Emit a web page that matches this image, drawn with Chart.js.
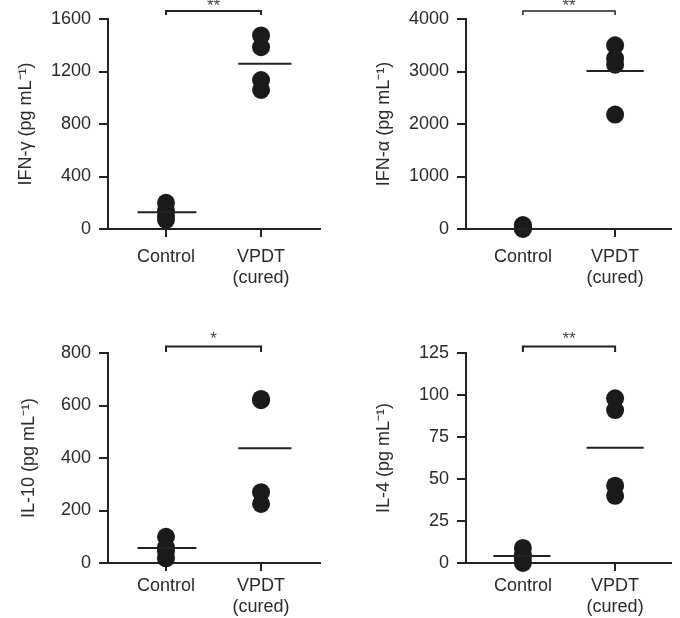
<!DOCTYPE html>
<html><head><meta charset="utf-8">
<script src="https://cdn.jsdelivr.net/npm/chart.js@4.4.0/dist/chart.umd.min.js"></script>
<style>
body{margin:0;background:#fff;width:680px;height:618px;position:relative;overflow:hidden}
canvas{position:absolute}
</style></head><body>
<canvas id="c0" width="340" height="310" style="left:0;top:0"></canvas>
<canvas id="c1" width="340" height="310" style="left:340px;top:0"></canvas>
<canvas id="c2" width="340" height="308" style="left:0;top:310px"></canvas>
<canvas id="c3" width="340" height="308" style="left:340px;top:310px"></canvas>
<script>
// ---- data ----
const groups = ['Control', ['VPDT', '(cured)']];

const ifnGammaControl = [200, 140, 100, 70];
const ifnGammaVPDT = [1475, 1385, 1135, 1060];
const ifnGammaMeans = [128, 1260];
const ifnGammaTicks = {max: 1600, step: 400};

const ifnAlphaControl = [75, 40, 15, 0];
const ifnAlphaVPDT = [3500, 3250, 3130, 2180];
const ifnAlphaMeans = [0, 3010];
const ifnAlphaTicks = {max: 4000, step: 1000};

const il10Control = [100, 60, 45, 18];
const il10VPDT = [625, 620, 270, 225];
const il10Means = [57, 437];
const il10Ticks = {max: 800, step: 200};

const il4Control = [9, 5, 3, 0];
const il4VPDT = [98, 91, 46, 40];
const il4Means = [4.2, 68.6];
const il4Ticks = {max: 125, step: 25};

const significance = ['**', '**', '*', '**'];
const yTitles = ['IFN-\u03b3 (pg mL\u207b\u00b9)', 'IFN-\u03b1 (pg mL\u207b\u00b9)', 'IL-10 (pg mL\u207b\u00b9)', 'IL-4 (pg mL\u207b\u00b9)'];

// ---- styling ----
const FONT = '"Liberation Sans", Arial, sans-serif';
const AX = '#222';
const TXT = '#2a2a2a';
const DOT = '#1a1a1a';

const bracketPlugin = {
  id: 'bracket',
  afterDraw(chart, args, o) {
    const {ctx, chartArea, scales: {x}} = chart;
    const x0 = x.getPixelForValue(0), x1 = x.getPixelForValue(1);
    const y = chartArea.top - o.offset;
    ctx.save();
    ctx.strokeStyle = AX; ctx.lineWidth = o.width;
    ctx.beginPath();
    ctx.moveTo(x0, y + o.leg); ctx.lineTo(x0, y); ctx.lineTo(x1, y); ctx.lineTo(x1, y + o.leg);
    ctx.stroke();
    ctx.fillStyle = '#444';
    ctx.font = '17px ' + FONT;
    ctx.textAlign = 'center'; ctx.textBaseline = 'alphabetic';
    ctx.fillText(o.text, (x0 + x1) / 2, y - o.textGap);
    ctx.restore();
  }
};

function makeChart(id, cfg) {
  const pts = (vals, c) => vals.map(v => ({x: c, y: v}));
  const meanLine = (m, c, span) => [{x: c + span[0], y: m}, {x: c + span[1], y: m}];
  new Chart(document.getElementById(id), {
    type: 'scatter',
    data: {
      datasets: [
        {type: 'line', data: meanLine(cfg.means[0], 0, cfg.spanC), borderColor: AX, borderWidth: 2, pointRadius: 0, clip: false},
        {type: 'line', data: meanLine(cfg.means[1], 1, cfg.spanV), borderColor: AX, borderWidth: 2, pointRadius: 0, clip: false},
        {data: pts(cfg.control, 0), backgroundColor: DOT, borderColor: DOT, pointRadius: 9, borderWidth: 0, clip: false},
        {data: pts(cfg.vpdt, 1), backgroundColor: DOT, borderColor: DOT, pointRadius: 9, borderWidth: 0, clip: false}
      ]
    },
    options: {
      responsive: false, animation: false, devicePixelRatio: 1,
      layout: {padding: {left: 0, right: cfg.padRight, top: cfg.padTop, bottom: 0}},
      plugins: {legend: {display: false}, tooltip: {enabled: false},
        bracket: {offset: cfg.brOffset, leg: cfg.brLeg, width: cfg.brWidth, text: cfg.sig, textGap: cfg.starGap}},
      scales: {
        x: {
          type: 'linear', min: cfg.xmin, max: cfg.xmax,
          afterBuildTicks: s => { s.ticks = [{value: 0}, {value: 1}]; },
          afterFit: s => { s.height = cfg.xHeight; },
          grid: {drawOnChartArea: false, drawTicks: true, tickLength: 8, color: AX, lineWidth: 2},
          border: {color: AX, width: 2},
          ticks: {callback: v => groups[v], color: TXT, font: {size: 18, family: FONT, lineHeight: 1.2},
            padding: cfg.xPad, maxRotation: 0, autoSkip: false}
        },
        y: {
          min: 0, max: cfg.ticks.max,
          afterFit: s => { s.width = cfg.yWidth; },
          grid: {drawOnChartArea: false, tickLength: 9, color: AX, lineWidth: 2},
          border: {color: AX, width: 2},
          ticks: {stepSize: cfg.ticks.step, color: TXT, font: {size: 18, family: FONT}, padding: 8,
            callback: v => String(v)},
          title: {display: true, text: cfg.title, color: TXT, font: {size: 18, family: FONT},
            padding: {top: cfg.titlePad, bottom: 0}}
        }
      }
    },
    plugins: [bracketPlugin]
  });
}

makeChart('c0', {control: ifnGammaControl, vpdt: ifnGammaVPDT, means: ifnGammaMeans, ticks: ifnGammaTicks,
  title: yTitles[0], sig: significance[0], yWidth: 108, padRight: 20, padTop: 19, xHeight: 81, xPad: 9,
  xmin: -0.61, xmax: 1.62, spanC: [-0.3, 0.32], spanV: [-0.24, 0.32], titlePad: 15,
  brOffset: 8, brLeg: 4, brWidth: 2, starGap: 0});
makeChart('c1', {control: ifnAlphaControl, vpdt: ifnAlphaVPDT, means: ifnAlphaMeans, ticks: ifnAlphaTicks,
  title: yTitles[1], sig: significance[1], yWidth: 126, padRight: 5, padTop: 19, xHeight: 81, xPad: 9,
  xmin: -0.617, xmax: 1.606, spanC: [-0.55, 0.94], spanV: [-0.31, 0.31], titlePad: 33,
  brOffset: 8, brLeg: 4, brWidth: 1.5, starGap: 0});
makeChart('c2', {control: il10Control, vpdt: il10VPDT, means: il10Means, ticks: il10Ticks,
  title: yTitles[2], sig: significance[2], yWidth: 108, padRight: 20, padTop: 43, xHeight: 55, xPad: 4,
  xmin: -0.61, xmax: 1.62, spanC: [-0.3, 0.32], spanV: [-0.24, 0.32], titlePad: 18,
  brOffset: 6.5, brLeg: 5.5, brWidth: 2, starGap: 2.5});
makeChart('c3', {control: il4Control, vpdt: il4VPDT, means: il4Means, ticks: il4Ticks,
  title: yTitles[3], sig: significance[3], yWidth: 126, padRight: 5, padTop: 43, xHeight: 55, xPad: 4,
  xmin: -0.617, xmax: 1.606, spanC: [-0.32, 0.3], spanV: [-0.31, 0.31], titlePad: 33,
  brOffset: 6.5, brLeg: 5.5, brWidth: 2, starGap: 2.5});
</script>
</body></html>
